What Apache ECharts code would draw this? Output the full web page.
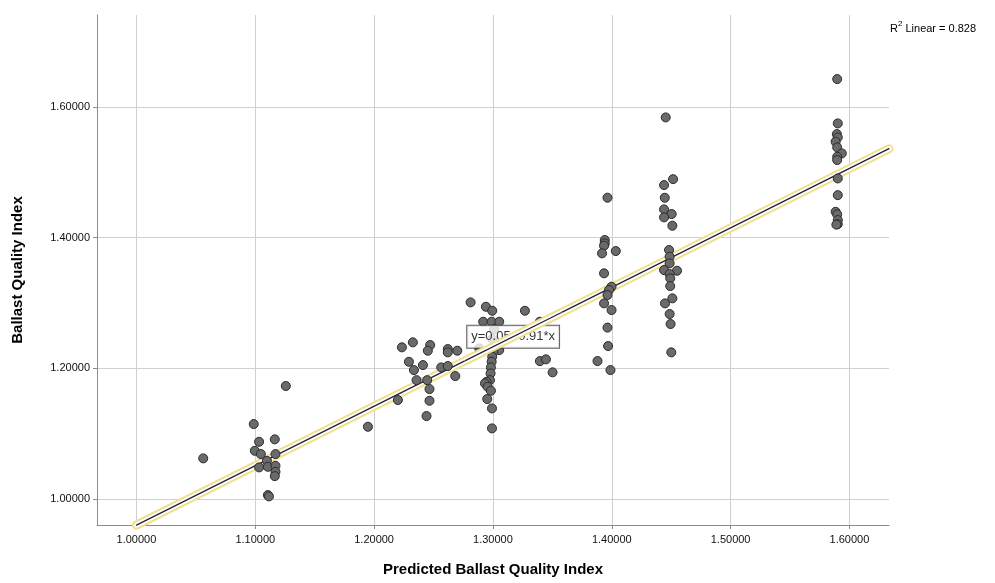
<!DOCTYPE html>
<html>
<head>
<meta charset="utf-8">
<script src="https://cdn.jsdelivr.net/npm/echarts@6/dist/echarts.min.js"></script>
<style>
html,body{margin:0;padding:0;background:#fff;}
#chart{width:995px;height:583px;}
</style>
</head>
<body>
<div id="chart"></div>
<script>
// Predicted Ballast Quality Index (x)
const predicted = [
  1.0562,1.0987,1.1032,1.1164,1.0996,1.1047,1.1170,1.1098,1.1032,1.1106,1.1170,1.1170,1.1164,1.1106,1.1115,1.1257,1.1948,
  1.2234,1.2326,1.2472,1.2452,1.2620,1.2620,1.2700,1.2293,1.2411,1.2335,1.2565,1.2620,1.2683,1.2357,1.2447,1.2466,1.2200,1.2466,1.2441,
  1.2812,1.2941,1.2994,1.3269,1.2918,1.2989,1.3053,1.3395,1.2885,1.3053,1.3003,1.2994,1.2989,1.3395,1.3446,1.3502,1.2983,1.2980,1.2975,1.2947,1.2933,1.2955,1.2983,1.2952,1.2992,1.2992,1.2995,1.3010,
  1.3964,1.3941,1.3941,1.3935,1.3918,1.4034,1.3935,1.3998,1.3977,1.3964,1.3935,1.3998,1.3964,1.3969,1.3880,1.3989,
  1.4454,1.4516,1.4440,1.4446,1.4440,1.4504,1.4440,1.4510,1.4482,1.4487,1.4487,1.4440,1.4549,1.4487,1.4492,1.4492,1.4510,1.4448,1.4487,1.4495,1.4501,
  1.5897,1.5902,1.5894,1.5902,1.5884,1.5897,1.5936,1.5897,1.5897,1.5902,1.5902,1.5884,1.5897,1.5902,1.5902,1.5890
];
// Ballast Quality Index (y)
const observed = [
  1.0622,1.1147,1.0876,1.0913,1.0738,1.0688,1.0688,1.0585,1.0484,1.0493,1.0508,1.0417,1.0350,1.0060,1.0040,1.1730,1.1106,
  1.2322,1.2398,1.2357,1.2270,1.2296,1.2245,1.2270,1.2101,1.2050,1.1974,1.2015,1.2035,1.1882,1.1820,1.1820,1.1683,1.1515,1.1504,1.1270,
  1.3010,1.2943,1.2882,1.2882,1.2714,1.2714,1.2714,1.2714,1.2306,1.2280,1.2254,1.2178,1.2101,1.2111,1.2138,1.1939,1.2015,1.1923,1.1820,1.1795,1.1770,1.1718,1.1657,1.1530,1.1387,1.1081,1.2450,1.2600,
  1.4613,1.3965,1.3914,1.3878,1.3761,1.3796,1.3455,1.3250,1.3200,1.3123,1.2995,1.2893,1.2624,1.2342,1.2112,1.1974,
  1.5842,1.4897,1.4806,1.4612,1.4434,1.4363,1.4312,1.4184,1.3812,1.3709,1.3608,1.3505,1.3495,1.3444,1.3378,1.3260,1.3072,1.2995,1.2832,1.2679,1.2245,
  1.6429,1.5750,1.5587,1.5536,1.5469,1.5383,1.5291,1.5239,1.5190,1.4908,1.4652,1.4397,1.4357,1.4270,1.4209,1.4200
];
// fit line: y = 0.05 + 0.91*x, drawn from x = 1.0 to the right edge of the plot
const fitIntercept = 0.05;
const fitSlope = 0.91;
const fitX = [1.0, 1.6333];
// x range covered by the equation label box (line is drawn over it)
const fitOverBoxX = [1.2763, 1.3577];
const eqText = 'y=0.05+0.91*x';
const eqPos = [1.317, 1.2485];
const r2Text = '0.828';
const xTicks = [1.0, 1.1, 1.2, 1.3, 1.4, 1.5, 1.6];
const yTicks = [1.0, 1.2, 1.4, 1.6];

const points = predicted.map((x, i) => [x, observed[i]]);
const fitAt = x => [x, fitIntercept + fitSlope * x];
const fitData = fitX.map(fitAt);
const fitOverBox = fitOverBoxX.map(fitAt);

const chart = echarts.init(document.getElementById('chart'), null, {renderer: 'canvas'});
const FONT = '"Liberation Sans", Arial, sans-serif';

function lineSeries(name, data, z, cap) {
  return [
    {type: 'line', name: name + 'Halo', data, z, symbol: 'none', clip: false,
     lineStyle: {color: '#f4df8e', width: 9, cap}, emphasis: {disabled: true}},
    {type: 'line', name: name + 'Inner', data, z: z + 0.1, symbol: 'none', clip: false,
     lineStyle: {color: '#ffffff', width: 5, cap}, emphasis: {disabled: true}},
    {type: 'line', name: name + 'Core', data, z: z + 0.2, symbol: 'none', clip: false,
     lineStyle: {color: '#1f2238', width: 1.3, cap}, emphasis: {disabled: true}}
  ];
}

chart.setOption({
  animation: false,
  backgroundColor: '#ffffff',
  grid: {left: 97, right: 106, top: 15, bottom: 58, containLabel: false},
  xAxis: {
    type: 'value', min: 0.9668, max: 1.6333,
    name: 'Predicted Ballast Quality Index', nameLocation: 'middle', nameGap: 37,
    nameTextStyle: {fontFamily: FONT, fontSize: 15, fontWeight: 'bold', color: '#000'},
    axisLine: {show: true, onZero: false, lineStyle: {color: '#8c8c8c', width: 1}},
    axisTick: {show: true, length: 4, inside: false, customValues: xTicks, lineStyle: {color: '#8c8c8c'}},
    axisLabel: {customValues: xTicks, formatter: v => v.toFixed(5), fontFamily: FONT, fontSize: 11, color: '#111', margin: 9},
    splitLine: {show: true, lineStyle: {color: '#d0d0d0', width: 1}}
  },
  yAxis: {
    type: 'value', min: 0.9602, max: 1.741,
    name: 'Ballast Quality Index', nameLocation: 'middle', nameGap: 72, nameRotate: 90,
    nameTextStyle: {fontFamily: FONT, fontSize: 15, fontWeight: 'bold', color: '#000'},
    axisLine: {show: true, onZero: false, lineStyle: {color: '#8c8c8c', width: 1}},
    axisTick: {show: true, length: 4, customValues: yTicks, lineStyle: {color: '#8c8c8c'}},
    axisLabel: {customValues: yTicks, formatter: v => v.toFixed(5), fontFamily: FONT, fontSize: 11, color: '#111', margin: 7},
    splitLine: {show: true, lineStyle: {color: '#d0d0d0', width: 1}}
  },
  series: [
    ...lineSeries('fit', fitData, 1, 'round'),
    {
      type: 'scatter', name: 'obs', data: points, z: 3,
      symbol: 'circle', symbolSize: 9,
      itemStyle: {color: '#6a6a6a', borderColor: '#2b2b2b', borderWidth: 1, opacity: 1},
      emphasis: {disabled: true}
    },
    {
      type: 'scatter', name: 'eq', data: [eqPos], z: 4, symbolSize: 0,
      label: {
        show: true, position: 'inside', formatter: eqText,
        fontFamily: FONT, fontSize: 13, color: '#000',
        backgroundColor: '#ffffff', borderColor: '#3a3a3a', borderWidth: 1,
        padding: [5, 4, 4, 4]
      },
      emphasis: {disabled: true}
    },
    ...lineSeries('fitOverBox', fitOverBox, 5, 'butt')
  ],
  graphic: [{
    type: 'text', left: 890, top: 20,
    style: {
      text: '{b|R}{s|2}{b| Linear = ' + r2Text + '}',
      rich: {
        b: {fontFamily: FONT, fontSize: 11, color: '#000', verticalAlign: 'bottom', lineHeight: 14},
        s: {fontFamily: FONT, fontSize: 8, color: '#000', verticalAlign: 'top', lineHeight: 14, padding: [0, 0, 6, 0]}
      }
    }
  }]
});
</script>
</body>
</html>
